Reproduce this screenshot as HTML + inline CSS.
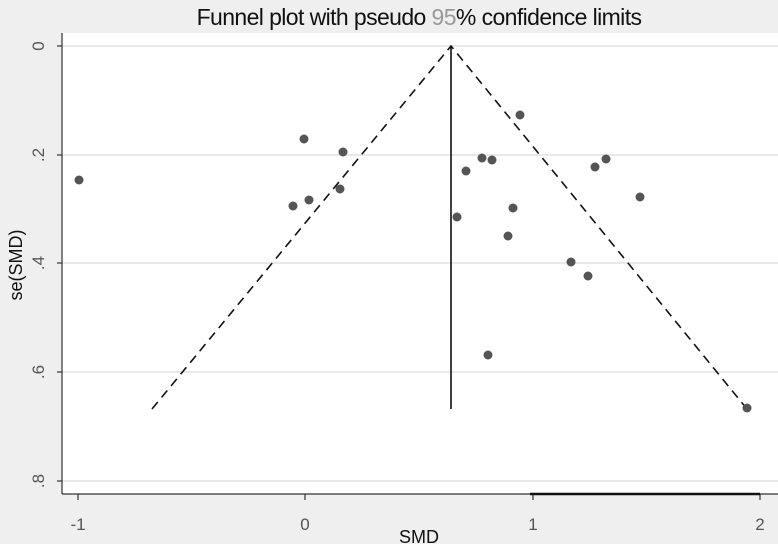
<!DOCTYPE html>
<html><head><style>body{margin:0;background:#efefef}</style></head><body>
<svg width="778" height="544" xmlns="http://www.w3.org/2000/svg" style="display:block;font-family:'Liberation Sans',sans-serif">
<rect width="778" height="544" fill="#efefef"/>
<rect x="62" y="33" width="716" height="461" fill="#fff"/>
<g stroke="#e2e2e2" stroke-width="1.5">
<line x1="62" y1="46" x2="778" y2="46"/><line x1="62" y1="155" x2="778" y2="155"/>
<line x1="62" y1="263" x2="778" y2="263"/><line x1="62" y1="372" x2="778" y2="372"/>
<line x1="62" y1="481" x2="778" y2="481"/></g>
<g stroke="#333" stroke-width="1.2">
<line x1="62" y1="33" x2="62" y2="494"/><line x1="62" y1="494" x2="778" y2="494"/>
<line x1="57" y1="46" x2="62" y2="46"/><line x1="57" y1="155" x2="62" y2="155"/><line x1="57" y1="263" x2="62" y2="263"/><line x1="57" y1="372" x2="62" y2="372"/><line x1="57" y1="481" x2="62" y2="481"/>
<line x1="78" y1="494" x2="78" y2="500"/><line x1="305" y1="494" x2="305" y2="500"/><line x1="533" y1="494" x2="533" y2="500"/><line x1="760" y1="494" x2="760" y2="500"/>
</g>
<line x1="530" y1="494" x2="760" y2="494" stroke="#111" stroke-width="2.5"/>
<g font-size="17" fill="#555" text-anchor="middle">
<text x="78" y="530">-1</text><text x="305" y="530">0</text><text x="533" y="530">1</text><text x="760" y="530">2</text>
<text transform="translate(44,46) rotate(-90)">0</text>
<text transform="translate(44,155) rotate(-90)">.2</text>
<text transform="translate(44,263) rotate(-90)">.4</text>
<text transform="translate(44,372) rotate(-90)">.6</text>
<text transform="translate(44,481) rotate(-90)">.8</text>
</g>
<text x="419" y="543" font-size="18" text-anchor="middle" fill="#111">SMD</text>
<text transform="translate(22,265) rotate(-90)" font-size="18" text-anchor="middle" fill="#111">se(SMD)</text>
<text x="419" y="25" font-size="23" text-anchor="middle" fill="#111" letter-spacing="-0.6">Funnel plot with pseudo <tspan fill="#999">95</tspan>% confidence limits</text>
<g stroke="#111" stroke-width="1.6" fill="none">
<polyline points="152,409 451,46 747,409" stroke-dasharray="9,6"/>
<line x1="451" y1="46" x2="451" y2="409"/>
</g>
<g fill="#555">
<circle cx="79" cy="180" r="4.5"/><circle cx="304" cy="139" r="4.5"/><circle cx="343" cy="152" r="4.5"/>
<circle cx="293" cy="206" r="4.5"/><circle cx="309" cy="200" r="4.5"/><circle cx="340" cy="189" r="4.5"/>
<circle cx="520" cy="115" r="4.5"/><circle cx="482" cy="158" r="4.5"/><circle cx="492" cy="160" r="4.5"/>
<circle cx="466" cy="171" r="4.5"/><circle cx="457" cy="217" r="4.5"/><circle cx="513" cy="208" r="4.5"/>
<circle cx="508" cy="236" r="4.5"/><circle cx="606" cy="159" r="4.5"/><circle cx="595" cy="167" r="4.5"/>
<circle cx="640" cy="197" r="4.5"/><circle cx="571" cy="262" r="4.5"/><circle cx="588" cy="276" r="4.5"/>
<circle cx="488" cy="355" r="4.5"/><circle cx="747" cy="408" r="4.5"/>
</g>
</svg>
</body></html>
